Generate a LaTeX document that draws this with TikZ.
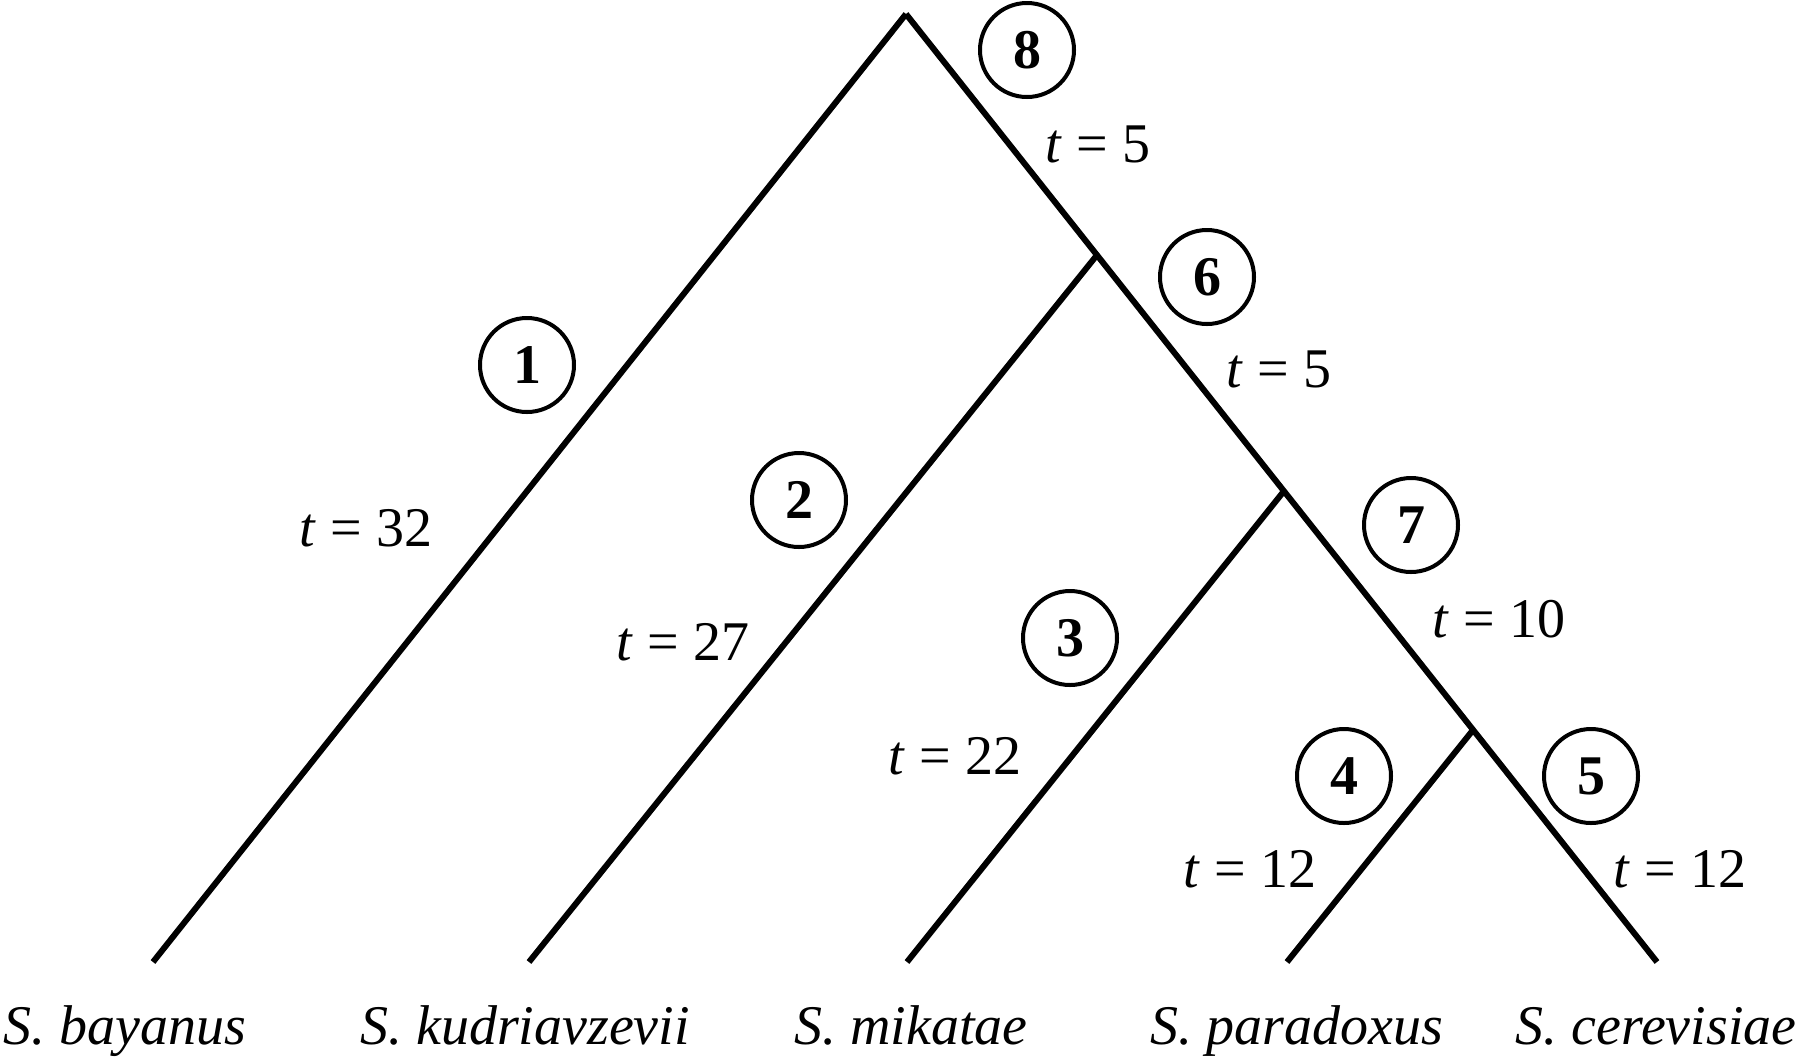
\documentclass[tikz,border=0pt]{standalone}
\usepackage{fontspec}
\setmainfont{Liberation Serif}
\usepackage{tikz}

\begin{document}
\begin{tikzpicture}[x=0.5pt, y=-0.5pt,
                branch/.style={line width=3pt},
                num/.style={circle, draw, line width=2pt, minimum size=47pt,
                inner sep=0pt, font=\fontsize{28}{28}\selectfont\bfseries},
                tlab/.style={anchor=base, font=\fontsize{28}{28}\selectfont},
                species/.style={anchor=base, font=\fontsize{28}{28}\selectfont\itshape}
            ]
        \useasboundingbox (0,0) rectangle (1800,1057);

        \coordinate (root) at (906,14);
        \coordinate (ancA) at (1097,255);
        \coordinate (ancB) at (1284,491);
        \coordinate (ancC) at (1473,730);

        \coordinate (bay) at (153,962);
        \coordinate (kud) at (529,962);
        \coordinate (mik) at (907,962);
        \coordinate (par) at (1287,962);
        \coordinate (cer) at (1657,962);

        \draw[branch] (root) -- (bay);
        \draw[branch] (root) -- (cer);
        \draw[branch] (ancA) -- (kud);
        \draw[branch] (ancB) -- (mik);
        \draw[branch] (ancC) -- (par);

        \node[num] (b1) at (527,365)  {1};
        \node[num] (b2) at (799,500)  {2};
        \node[num] (b3) at (1070,638) {3};
        \node[num] (b4) at (1344,776) {4};
        \node[num] (b5) at (1591,776) {5};
        \node[num] (b6) at (1207,277) {6};
        \node[num] (b7) at (1411,525) {7};
        \node[num] (b8) at (1027,50)  {8};

        \node[tlab] (t8) at (1098,162) {\textit{t} = 5};
        \node[tlab] (t6) at (1279,387) {\textit{t} = 5};
        \node[tlab] (t1) at (366,546)  {\textit{t} = 32};
        \node[tlab] (t2) at (683,660)  {\textit{t} = 27};
        \node[tlab] (t7) at (1499,637) {\textit{t} = 10};
        \node[tlab] (t3) at (955,774)  {\textit{t} = 22};
        \node[tlab] (t4) at (1250,887) {\textit{t} = 12};
        \node[tlab] (t5) at (1680,887) {\textit{t} = 12};

        \node[species] (lbay) at (125,1044)  {S. bayanus};
        \node[species] (lkud) at (525,1044)  {S. kudriavzevii};
        \node[species] (lmik) at (911,1044)  {S. mikatae};
        \node[species] (lpar) at (1297,1044) {S. paradoxus};
        \node[species] (lcer) at (1656,1044) {S. cerevisiae};
            \end{tikzpicture}
\end{document}
